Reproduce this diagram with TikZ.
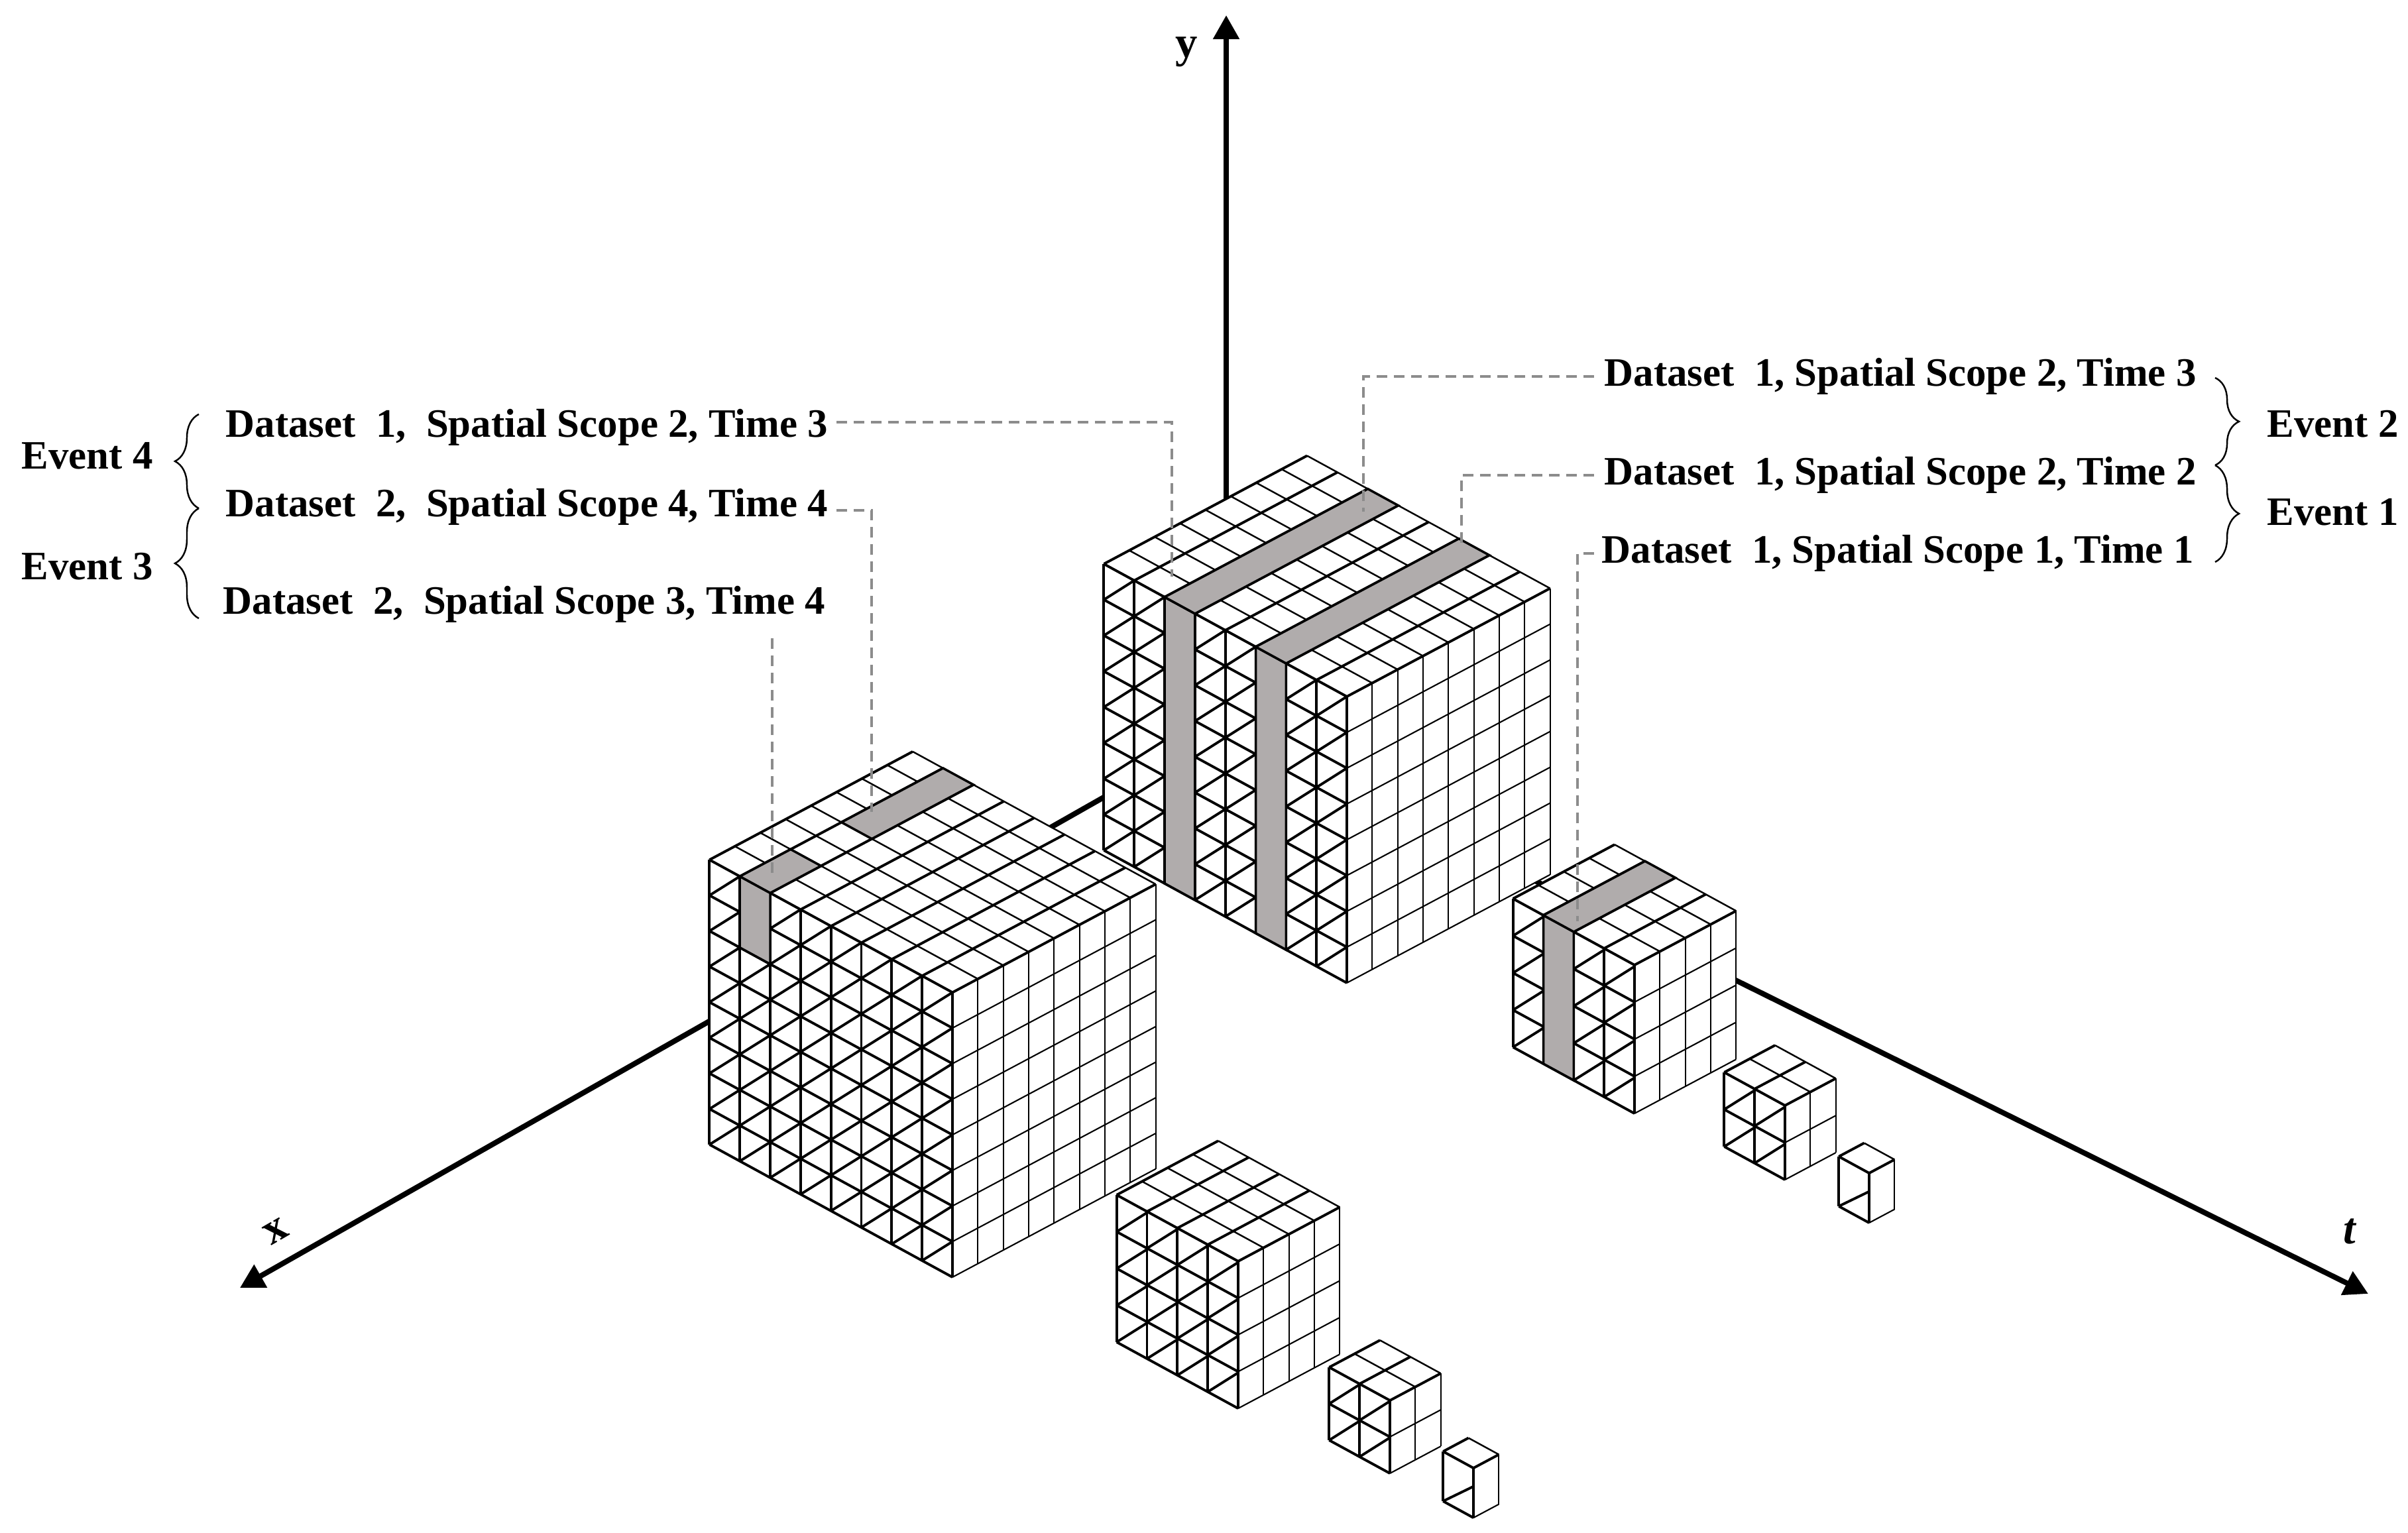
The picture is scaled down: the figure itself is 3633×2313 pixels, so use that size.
\documentclass[tikz,border=0pt]{standalone}
\usepackage{fontspec}
\setmainfont{Liberation Serif}
\usetikzlibrary{arrows.meta,decorations.pathreplacing}
\definecolor{cellgray}{RGB}{176,172,172}
\definecolor{leadgray}{RGB}{140,140,140}
\tikzset{
  cubeat/.style n args={4}{shift={(#1,#2)},x={(-0.383cm,-0.204cm)},y={(0cm,#4*0.01cm)},z={(0.458cm,-0.25cm)},shift={(-#3,0,-#3)}},
  lf/.style={line width=1.1pt,black},
  tx/.style={line width=1.1pt,black},
  tt/.style={line width=0.7pt,black},
  rf/.style={line width=0.6pt,black},
  gry/.style={fill=cellgray,draw=black,line width=1.0pt},
  axis/.style={line width=0.08cm,black,-{Triangle[length=0.36cm,width=0.38cm]}},
  lead/.style={leadgray,line width=0.9pt,dash pattern=on 0.16cm off 0.1cm},
  lbl/.style={font=\bfseries\fontsize{17.3pt}{20pt}\selectfont,inner sep=0pt,anchor=base west},
  axl/.style={font=\bfseries\fontsize{19pt}{22pt}\selectfont,inner sep=0pt},
  brc/.style={decorate,decoration={brace,amplitude=0.36cm},line width=0.7pt}
}
% #1 = N, #2 = rise of the diagonals (in cells)
\newcommand{\cubebody}[2]{%
  \fill[white] (#1,0,#1)--(#1,0,0)--(#1,#1,0)--(0,#1,0)--(0,#1,#1)--(0,0,#1)--cycle;
  \pgfmathtruncatemacro\Nm{#1-1}%
  \foreach \k in {0,...,#1} {\draw[lf] (#1,0,\k)--(#1,#1,\k);}
  \foreach \j in {0,...,#1} {\draw[lf] (#1,\j,0)--(#1,\j,#1);}
  \foreach \k in {0,...,\Nm} {\foreach \j in {0,...,\Nm} {\draw[lf] (#1,\j,\k)--(#1,{\j+#2},{\k+1});}}
  \foreach \k in {0,...,#1} {\draw[tx] (0,#1,\k)--(#1,#1,\k);}
  \foreach \i in {0,...,#1} {\draw[tt] (\i,#1,0)--(\i,#1,#1);}
  \foreach \i in {0,...,#1} {\draw[rf] (\i,0,#1)--(\i,#1,#1);}
  \foreach \j in {0,...,#1} {\draw[rf] (0,\j,#1)--(#1,\j,#1);}
  \draw[lf] (#1,0,#1)--(#1,#1,#1);
}
% #1 N, #2 k, #3 xa, #4 xb
\newcommand{\graytop}[4]{\filldraw[gry] (#3,#1,#2)--(#4,#1,#2)--(#4,#1,{#2+1})--(#3,#1,{#2+1})--cycle;}
% #1 N, #2 k, #3 ya
\newcommand{\grayside}[3]{\filldraw[gry] (#1,#3,#2)--(#1,#1,#2)--(#1,#1,{#2+1})--(#1,#3,{#2+1})--cycle;}
\begin{document}
\begin{tikzpicture}[x=0.01cm,y=-0.01cm]
\useasboundingbox (0,0) rectangle (3633,2313);
% axes
\coordinate (O) at (1850,1098);
\coordinate (xend) at (362,1943);
\coordinate (tend) at (3573,1952);
\coordinate (yend) at (1850,23);
\draw[axis] (O) -- (xend);
\draw[axis] (O) -- (tend);
\draw[axis] (O) -- (yend);
\node[axl] (ylab) at (1790,78) {y};
\node[axl,rotate=30] (xlab) at (416,1858) {x};
\node[axl,font=\bfseries\itshape\fontsize{19pt}{22pt}\selectfont] (tlab) at (3545,1858) {t};
% middle cube
\begin{scope}[cubeat={2032}{1483}{8}{54}]
  \cubebody{8}{1}
  \grayside{8}{2}{0}\graytop{8}{2}{0}{8}
  \grayside{8}{5}{0}\graytop{8}{5}{0}{8}
\end{scope}
% right chain
\begin{scope}[cubeat={2466}{1680}{4}{56}]
  \cubebody{4}{0.96}
  \grayside{4}{1}{0}\graytop{4}{1}{0}{4}
\end{scope}
\begin{scope}[cubeat={2693}{1780}{2}{56}]
  \cubebody{2}{0.96}
\end{scope}
\begin{scope}[cubeat={2820}{1845}{1}{75}]
  \cubebody{1}{0.63}
\end{scope}
% left big cube
\begin{scope}[cubeat={1437}{1927}{8}{53.7}]
  \cubebody{8}{1}
  \grayside{8}{1}{6}\graytop{8}{1}{6}{8}
  \graytop{8}{1}{0}{4}
\end{scope}
% left chain
\begin{scope}[cubeat={1868}{2125}{4}{55.5}]
  \cubebody{4}{0.97}
\end{scope}
\begin{scope}[cubeat={2097}{2223}{2}{55}]
  \cubebody{2}{0.98}
\end{scope}
\begin{scope}[cubeat={2223}{2290}{1}{75}]
  \cubebody{1}{0.63}
\end{scope}
% labels left
\node[lbl] (l1) at (340,660) {Dataset\ \ 1,\ \ Spatial Scope 2, Time 3};
\node[lbl] (l2) at (340,780) {Dataset\ \ 2,\ \ Spatial Scope 4, Time 4};
\node[lbl] (l3) at (336,927) {Dataset\ \ 2,\ \ Spatial Scope 3, Time 4};
\node[lbl] (e4) at (32,708) {Event 4};
\node[lbl] (e3) at (32,875) {Event 3};
\coordinate (b1a) at (300,767); \coordinate (b1b) at (300,625);
\coordinate (b2a) at (300,933); \coordinate (b2b) at (300,767);
\draw[brc] (b1a) -- (b1b);
\draw[brc] (b2a) -- (b2b);
% labels right
\node[lbl] (r1) at (2420,583) {Dataset\ \ 1, Spatial Scope 2, Time 3};
\node[lbl] (r2) at (2420,732) {Dataset\ \ 1, Spatial Scope 2, Time 2};
\node[lbl] (r3) at (2416,850) {Dataset\ \ 1, Spatial Scope 1, Time 1};
\node[lbl] (e2) at (3420,660) {Event 2};
\node[lbl] (e1) at (3420,793) {Event 1};
\coordinate (b3a) at (3342,570); \coordinate (b3b) at (3342,702);
\coordinate (b4a) at (3342,702); \coordinate (b4b) at (3342,848);
\draw[brc] (b3a) -- (b3b);
\draw[brc] (b4a) -- (b4b);
% leaders
\coordinate (L1a) at (1262,637); \coordinate (L1b) at (1768,870);
\coordinate (L2a) at (1262,770); \coordinate (L2b) at (1315,1225);
\coordinate (L3a) at (1165,963); \coordinate (L3b) at (1165,1317);
\coordinate (R1a) at (2405,568); \coordinate (R1b) at (2057,772);
\coordinate (R2a) at (2405,717); \coordinate (R2b) at (2205,827);
\coordinate (R3a) at (2405,835); \coordinate (R3b) at (2380,1390);
\draw[lead] (L1a) -| (L1b);
\draw[lead] (L2a) -| (L2b);
\draw[lead] (L3a) -- (L3b);
\draw[lead] (R1a) -| (R1b);
\draw[lead] (R2a) -| (R2b);
\draw[lead] (R3a) -| (R3b);
\end{tikzpicture}
\end{document}
